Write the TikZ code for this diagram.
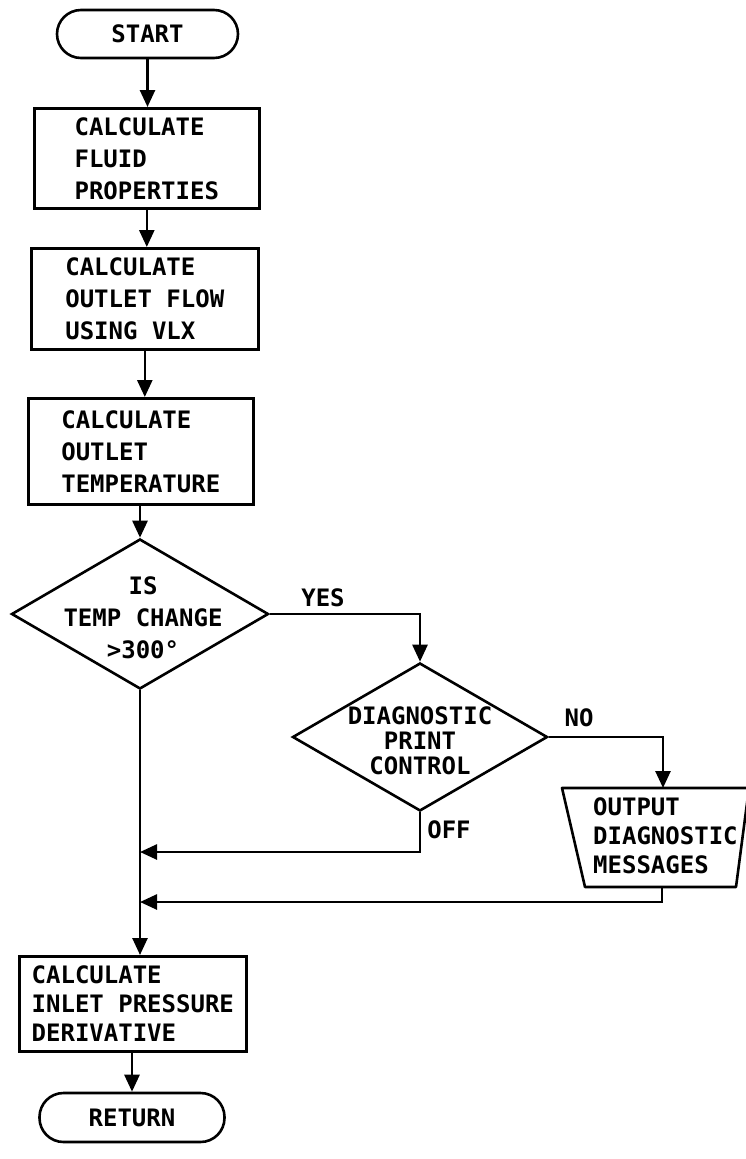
\documentclass[tikz,border=0pt]{standalone}
\usepackage{fontspec}
\setmainfont{DejaVu Sans Mono}
\usetikzlibrary{arrows.meta,shapes.geometric}
\tikzset{
  every node/.style={font=\bfseries\fontsize{24}{32}\selectfont},
  line/.style={line width=2.6pt},
  arr/.style={line, -{Triangle[length=17pt,width=15pt]}},
  procbox/.style={draw, line width=2.6pt, align=left, anchor=north west, inner sep=0pt},
  term/.style={draw, line width=2.6pt, rounded corners=24pt, inner sep=0pt},
  dia/.style={draw, line width=2.6pt, diamond, inner sep=0pt},
  lbl/.style={inner sep=0pt, align=center},
}
\begin{document}
\begin{tikzpicture}[x=1pt,y=-1pt]
\useasboundingbox (0,0) rectangle (746,1159);
\fill[white] (0,0) rectangle (746,1159);

\node[term, minimum width=181pt, minimum height=48pt] (start) at (147.5,34) {START};
\node[procbox, minimum width=225pt, minimum height=100pt] (b1) at (33,107) {CALCULATE\\FLUID\\PROPERTIES};
\node[procbox, minimum width=227pt, minimum height=101pt] (b2) at (30,247) {CALCULATE\\OUTLET FLOW\\USING VLX};
\node[procbox, minimum width=225pt, minimum height=106pt] (b3) at (27,397) {CALCULATE\\OUTLET\\TEMPERATURE};

\node[dia, minimum width=257pt, minimum height=150pt] (d1) at (140,614) {};
\node[lbl] (d1t) at (143,618) {IS\\TEMP CHANGE\\>300°};

\node[dia, minimum width=255pt, minimum height=148pt] (d2) at (420,737) {};
\node[lbl, font=\bfseries\fontsize{24}{25}\selectfont] (d2t) at (420,741) {DIAGNOSTIC\\PRINT\\CONTROL};

\coordinate (tTL) at (562,788);
\coordinate (tTR) at (749,788);
\coordinate (tBR) at (736,887);
\coordinate (tBL) at (585,887);
\draw[line, line join=round] (tTL) -- (tTR) -- (tBR) -- (tBL) -- cycle;
\coordinate (trapTop) at (663,788);
\coordinate (trapBot) at (662,887);
\node[lbl, align=left, anchor=west, font=\bfseries\fontsize{24}{29}\selectfont] (tt) at (593,836) {OUTPUT\\DIAGNOSTIC\\MESSAGES};

\node[procbox, minimum width=227pt, minimum height=95pt, font=\bfseries\fontsize{24}{29}\selectfont] (b4) at (18,955) {CALCULATE\\INLET PRESSURE\\DERIVATIVE};
\node[term, minimum width=185pt, minimum height=49pt] (ret) at (132,1117.5) {RETURN};

\coordinate (m1) at (140,852);
\coordinate (m2) at (140,902);

\node[lbl] (yes) at (323,598) {YES};
\node[lbl] (no) at (579,718) {NO};
\node[lbl] (off) at (449,830) {OFF};

\draw[arr] (start.south) -- (start.south |- b1.north);
\draw[arr] (b1.south) -- (b1.south |- b2.north);
\draw[arr] (b2.south) -- (b2.south |- b3.north);
\draw[arr] (b3.south -| d1.north) -- (d1.north);
\draw[arr] (d1.east) -| (d2.north);
\draw[arr] (d2.east) -| (trapTop);
\draw[arr] (d2.south) |- (m1);
\draw[arr] (trapBot) |- (m2);
\draw[arr] (d1.south) -- (d1.south |- b4.north);
\draw[arr] (ret.north |- b4.south) -- (ret.north);
\end{tikzpicture}
\end{document}
